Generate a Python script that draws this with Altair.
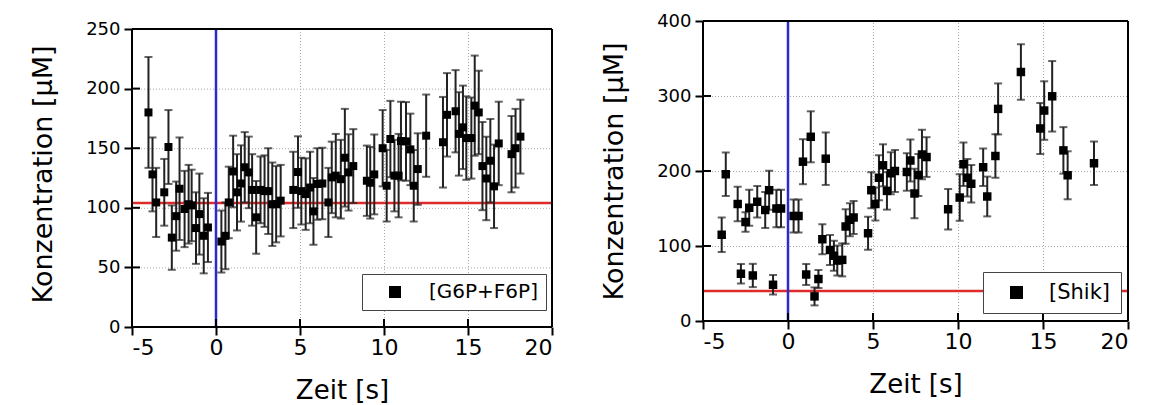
import altair as alt
import pandas as pd

# ---------------- data ----------------
# [G6P+F6P] panel
g_t = [-4.02, -3.78, -3.56, -3.08, -2.83, -2.63, -2.37, -2.17, -1.87, -1.63, -1.45, -1.19, -0.99, -0.73, -0.48,
       0.32, 0.56, 0.76, 1.02, 1.25, 1.49, 1.71, 1.95, 2.15, 2.39, 2.65, 2.89, 3.11, 3.35, 3.58, 3.85,
       4.60, 4.88, 5.08, 5.34, 5.60, 5.80, 6.03, 6.33, 6.69, 6.89, 7.13, 7.43, 7.67, 7.89, 8.17,
       8.98, 9.18, 9.42, 9.92, 10.16, 10.38, 10.62, 10.87, 11.01, 11.31, 11.57, 11.77, 12.01, 12.51,
       13.51, 13.75, 14.26, 14.46, 14.70, 14.90, 15.20, 15.40, 15.64, 15.86, 16.09, 16.33, 16.55, 16.83,
       17.59, 17.83, 18.12]
g_v = [180, 128, 104.5, 113, 151, 75, 93, 116, 99, 103, 102, 83, 94.7, 76.5, 83.5,
       71.7, 76.5, 104.5, 130.5, 113, 120.4, 134, 129.7, 115, 92, 115, 114, 114, 103, 103, 106,
       115, 130, 114, 111.5, 117, 97, 120, 120.4, 104.5, 125.5, 127, 124, 142, 129.7, 135,
       122.7, 121, 128, 150, 118.5, 157.7, 127, 127, 156, 155.7, 149, 118.5, 132.5, 160.5,
       155, 178, 181, 162, 167.5, 158.5, 158.5, 185.7, 180, 135, 124.6, 139.5, 118, 154,
       145, 150, 159.7]
g_e = [46.5, 31, 29, 28, 31, 27, 29, 43, 32, 33, 30, 30, 34, 31.5, 29,
       26, 28, 30, 30, 32, 32, 29.5, 30, 30, 30.5, 28, 30, 36, 35, 32, 30,
       32, 30, 28, 30, 30, 28, 30, 30, 29, 30, 35, 33, 41, 32, 31,
       29.5, 30, 33.5, 32, 30, 32, 30, 35, 33, 33, 30, 30, 30, 34.5,
       38, 35, 34.5, 35, 35, 35, 34, 42, 35, 37, 35, 35, 35, 35,
       32, 33, 31]

# [Shik] panel
s_t = [-3.90, -3.66, -2.96, -2.77, -2.50, -2.28, -2.07, -1.81, -1.34, -1.11, -0.88, -0.68, -0.41,
       0.33, 0.62, 0.88, 1.07, 1.34, 1.56, 1.79, 2.02, 2.22, 2.47, 2.70, 2.90, 3.19, 3.39, 3.64, 3.86,
       4.71, 4.90, 5.14, 5.35, 5.59, 5.82, 6.05, 6.29, 6.99, 7.20, 7.44, 7.67, 7.88, 8.15,
       9.42, 10.10, 10.32, 10.55, 10.78, 11.48, 11.72, 12.20, 12.36, 13.70, 14.84, 15.07, 15.54,
       16.20, 16.45, 18.00]
s_v = [115, 195.7, 156, 63, 132, 151, 60.7, 159, 148, 174.4, 48.3, 150, 150,
       140, 140, 212.4, 62, 245.6, 32.8, 56, 109, 216.4, 94.7, 87, 80.6, 81.5, 126, 135, 138,
       117, 174.4, 156, 191, 207.6, 173.5, 197, 200, 198.7, 214, 170, 194.7, 222, 218.6,
       149, 164.6, 209, 191, 183, 205, 166, 220, 282.8, 332, 256.7, 280.6, 299.6,
       227.5, 194.3, 210.3]
s_e = [23, 29, 23, 13, 13, 24, 15.5, 21, 24, 26, 13, 25, 25,
       22, 22, 30, 14, 34, 12, 12, 20, 35, 20, 20, 20, 22, 23, 22, 22,
       22, 24, 22, 30, 28, 25, 28, 28, 25, 28, 33, 28, 33, 26.5,
       27, 31, 29, 25, 25, 25, 26.5, 29, 34, 37, 34, 39, 47,
       31, 32, 29]

x_ticks = [-5, 0, 5, 10, 15, 20]
x_range = [-5, 20]
g_yticks = [0, 50, 100, 150, 200, 250]
s_yticks = [0, 100, 200, 300, 400]
g_baseline = [104]
s_baseline = [40]
pulse_time = [0]
g_label = "[G6P+F6P]"
s_label = "[Shik]"

FONT = "DejaVu Sans"


def panel(t, v, e, yticks, ytop, baseline, label, W, H, top_gap,
          lx, ly, lpad, symoff, laboff, symsize, labsize, msize):
    x0, x1 = x_range
    plot_h = H - top_gap
    ydom_top = ytop * H / plot_h
    df = pd.DataFrame({
        "t": t, "v": v,
        "lo": [a - b for a, b in zip(v, e)],
        "hi": [a + b for a, b in zip(v, e)],
        "series": [label] * len(t),
    })
    xs = alt.Scale(domain=[x0, x1], nice=False, zero=False)
    ys = alt.Scale(domain=[0, ydom_top], nice=False)
    xax = alt.Axis(values=x_ticks, title="Zeit [s]", labelExpr="'' + datum.value")
    yax = alt.Axis(values=yticks, title="Konzentration [µM]")

    X = lambda f: alt.X(f, type="quantitative", scale=xs, axis=xax)
    Y = lambda f: alt.Y(f, type="quantitative", scale=ys, axis=yax)

    gcol = "#a8a8a8"
    xgrid = alt.Chart(pd.DataFrame({"t": x_ticks[1:-1], "y0": 0, "y1": ytop})).mark_rule(
        color=gcol, strokeDash=[1, 2], strokeWidth=1, xOffset=0.5).encode(
        x=X("t"), y=Y("y0"), y2="y1")
    ygrid = alt.Chart(pd.DataFrame({"v": yticks[1:-1], "x0": x0, "x1": x1})).mark_rule(
        color=gcol, strokeDash=[1, 2], strokeWidth=1, yOffset=0.5).encode(
        y=Y("v"), x=X("x0"), x2="x1")

    base = alt.Chart(df)
    bars = base.mark_errorbar(ticks=True, size=8, thickness=2, color="#222222").encode(
        x=X("t"), y=Y("lo"), y2="hi")
    pts = base.mark_point(shape="square", filled=True, size=msize, color="black", opacity=1).encode(
        x=X("t"), y=Y("v"),
        shape=alt.Shape(
            "series:N",
            scale=alt.Scale(range=["square"]),
            legend=alt.Legend(
                title=None, orient="none", legendX=lx, legendY=ly,
                fillColor="white", strokeColor="#444444", padding=lpad,
                symbolType="square", symbolSize=symsize, symbolFillColor="black",
                symbolStrokeColor="black", symbolOffset=symoff, labelOffset=laboff,
                labelFont=FONT, labelFontSize=labsize, labelColor="black",
            ),
        ),
    )
    red = alt.Chart(pd.DataFrame({"v": baseline, "x0": x0, "x1": x1})).mark_rule(
        color="#dd2a2a", strokeWidth=2.5).encode(y=Y("v"), x=X("x0"), x2="x1")
    blue = alt.Chart(pd.DataFrame({"t": pulse_time, "y0": 0, "y1": ytop})).mark_rule(
        color="#2a2ad0", strokeWidth=2.5).encode(x=X("t"), y=Y("y0"), y2="y1")
    hframe = alt.Chart(pd.DataFrame({"v": [0, ytop], "x0": x0, "x1": x1})).mark_rule(
        color="black", strokeWidth=2).encode(y=Y("v"), x=X("x0"), x2="x1")
    vframe = alt.Chart(pd.DataFrame({"t": [x0, x1], "y0": 0, "y1": ytop})).mark_rule(
        color="black", strokeWidth=2).encode(x=X("t"), y=Y("y0"), y2="y1")
    xin = alt.Chart(pd.DataFrame({"t": x_ticks})).mark_rule(color="black", strokeWidth=2).encode(
        x=X("t"), y=alt.value(H), y2=alt.value(H - 8))
    yin = alt.Chart(pd.DataFrame({"v": yticks})).mark_rule(color="black", strokeWidth=2).encode(
        y=Y("v"), x=alt.value(0), x2=alt.value(8))
    return alt.layer(xgrid, ygrid, red, blue, bars, pts, hframe, vframe, xin, yin).properties(
        width=W, height=H)


left = panel(g_t, g_v, g_e, g_yticks, 250, g_baseline, g_label, 420, 306, 8,
             230, 253, 8, 15, 24, 144, 20, 64)
right = panel(s_t, s_v, s_e, s_yticks, 400, s_baseline, s_label, 425, 300, 0,
              280, 251, 10, 13, 22, 169, 21, 72)

chart = alt.hconcat(left, right, spacing=46).resolve_scale(
    x="independent", y="independent", shape="independent"
).resolve_legend(shape="independent").properties(
    padding={"left": 21, "top": 3, "right": 5, "bottom": 6}
).configure_axis(
    labelFont=FONT, titleFont=FONT, labelColor="black", titleColor="black",
    titleFontWeight="normal", tickColor="black", tickWidth=2, tickSize=8,
    domain=False, grid=False,
).configure_axisX(
    labelFontSize=22, labelPadding=2, titleFontSize=26, titlePadding=19,
).configure_axisY(
    labelFontSize=18, labelPadding=4, titleFontSize=27, titlePadding=28,
).configure_view(
    stroke="transparent",
)

chart.save("out.html", embed_options={"renderer": "svg", "actions": False})
